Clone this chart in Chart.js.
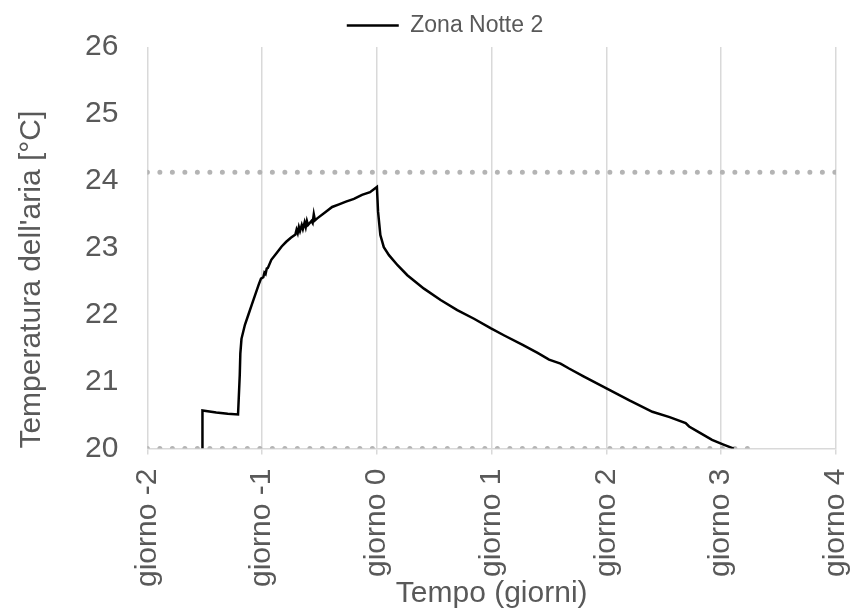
<!DOCTYPE html>
<html>
<head>
<meta charset="utf-8">
<script src="https://cdn.jsdelivr.net/npm/chart.js@4/dist/chart.umd.min.js"></script>
<style>
  html, body { margin: 0; padding: 0; background: #fff; }
</style>
</head>
<body>
<canvas id="chart" width="856" height="612"></canvas>
<script>
// giorni (x) and temperature (y)
const dayValues = [-1.52, -1.52, -1.40, -1.30, -1.21, -1.195, -1.19, -1.18, -1.15, -1.12, -1.09, -1.06, -1.03, -1.01,
  -0.99, -0.98, -0.97, -0.96, -0.95, -0.92, -0.87, -0.83, -0.79, -0.75, -0.71,
  -0.70, -0.69, -0.68, -0.67, -0.655, -0.645, -0.63, -0.62, -0.61, -0.60, -0.57, -0.56, -0.55, -0.54, -0.52,
  -0.45, -0.39, -0.33, -0.27, -0.20, -0.13, -0.06, 0.0,
  0.01, 0.03, 0.06, 0.105, 0.18, 0.265, 0.41, 0.555, 0.70, 0.846, 0.99, 1.11, 1.27, 1.40, 1.50,
  1.60, 1.67, 1.80, 2.0, 2.2, 2.4, 2.55, 2.69, 2.72, 2.8, 2.92, 3.02, 3.11];
const tempValues = [20.0, 20.57, 20.54, 20.52, 20.51, 21.1, 21.42, 21.64, 21.85, 22.0, 22.15, 22.3, 22.45, 22.54,
  22.56, 22.63, 22.61, 22.69, 22.7, 22.82, 22.93, 23.02, 23.09, 23.15, 23.2,
  23.27, 23.22, 23.31, 23.25, 23.34, 23.28, 23.38, 23.31, 23.4, 23.34, 23.4, 23.37, 23.5, 23.41, 23.44,
  23.53, 23.61, 23.65, 23.69, 23.73, 23.79, 23.83, 23.91,
  23.54, 23.19, 23.01, 22.89, 22.74, 22.59, 22.39, 22.22, 22.07, 21.94, 21.80, 21.69, 21.55, 21.43, 21.33,
  21.27, 21.2, 21.08, 20.9, 20.72, 20.55, 20.47, 20.38, 20.33, 20.25, 20.13, 20.06, 20.0];

// limiti (linee puntinate)
const upperLimitX = [-2, 4];
const upperLimitY = [24.13, 24.13];
const lowerLimitX = [-2, 3.31];
const lowerLimitY = [20.0, 20.0];

const dayTicks = [-2, -1, 0, 1, 2, 3, 4];
const dayTickLabels = ['giorno -2', 'giorno -1', 'giorno 0', 'giorno 1', 'giorno 2', 'giorno 3', 'giorno 4'];

const toPoints = (xs, ys) => xs.map((x, i) => ({ x: x, y: ys[i] }));

Chart.defaults.font.family = '"Liberation Sans", Arial, sans-serif';
Chart.defaults.color = '#595959';

const limitStyle = {
  borderColor: '#b4b4b4',
  borderWidth: 5,
  borderDash: [0, 12.5],
  borderCapStyle: 'round',
  pointRadius: 0,
  fill: false,
};

new Chart(document.getElementById('chart'), {
  type: 'line',
  data: {
    datasets: [
      {
        label: 'Zona Notte 2',
        data: toPoints(dayValues, tempValues),
        borderColor: '#000000',
        backgroundColor: '#000000',
        borderWidth: 2.5,
        pointRadius: 0,
        tension: 0,
        fill: false,
        order: 0,
      },
      Object.assign({ label: 'limite sup', data: toPoints(upperLimitX, upperLimitY), order: 1 }, limitStyle),
      Object.assign({ label: 'limite inf', data: toPoints(lowerLimitX, lowerLimitY), order: 1 }, limitStyle),
    ],
  },
  options: {
    responsive: false,
    animation: false,
    devicePixelRatio: 1,
    layout: { padding: { left: 34, right: 0, top: 0, bottom: 0 } },
    plugins: {
      tooltip: { enabled: false },
      legend: {
        position: 'top',
        labels: {
          filter: (item) => item.datasetIndex === 0,
          usePointStyle: true,
          pointStyle: 'line',
          pointStyleWidth: 52,
          boxHeight: 23,
          padding: 11,
          font: { size: 23 },
          color: '#595959',
        },
      },
    },
    scales: {
      x: {
        type: 'linear',
        min: -2,
        max: 4,
        afterBuildTicks: (axis) => { axis.ticks = dayTicks.map((v) => ({ value: v })); },
        afterFit: (axis) => { axis.paddingLeft = 0; axis.paddingRight = 20; },
        ticks: {
          callback: (value) => dayTickLabels[dayTicks.indexOf(value)],
          minRotation: 90,
          maxRotation: 90,
          padding: 14,
          font: { size: 30 },
          color: '#595959',
        },
        grid: { color: '#d9d9d9', lineWidth: 1.5, tickLength: 6 },
        border: { display: true, color: '#d9d9d9', width: 1.5 },
        title: {
          display: true,
          text: 'Tempo (giorni)',
          font: { size: 30, lineHeight: 1.2 },
          color: '#595959',
          padding: { top: -25, bottom: 0 },
        },
      },
      y: {
        min: 20,
        max: 26,
        ticks: { stepSize: 1, padding: 29, font: { size: 30 }, color: '#595959' },
        grid: { display: false, drawTicks: false },
        border: { display: false },
        title: {
          display: true,
          text: "Temperatura dell'aria [°C]",
          align: 'start',
          font: { size: 30, lineHeight: 1.2 },
          color: '#595959',
          padding: { top: -20, bottom: 6 },
        },
      },
    },
  },
});
</script>
</body>
</html>
